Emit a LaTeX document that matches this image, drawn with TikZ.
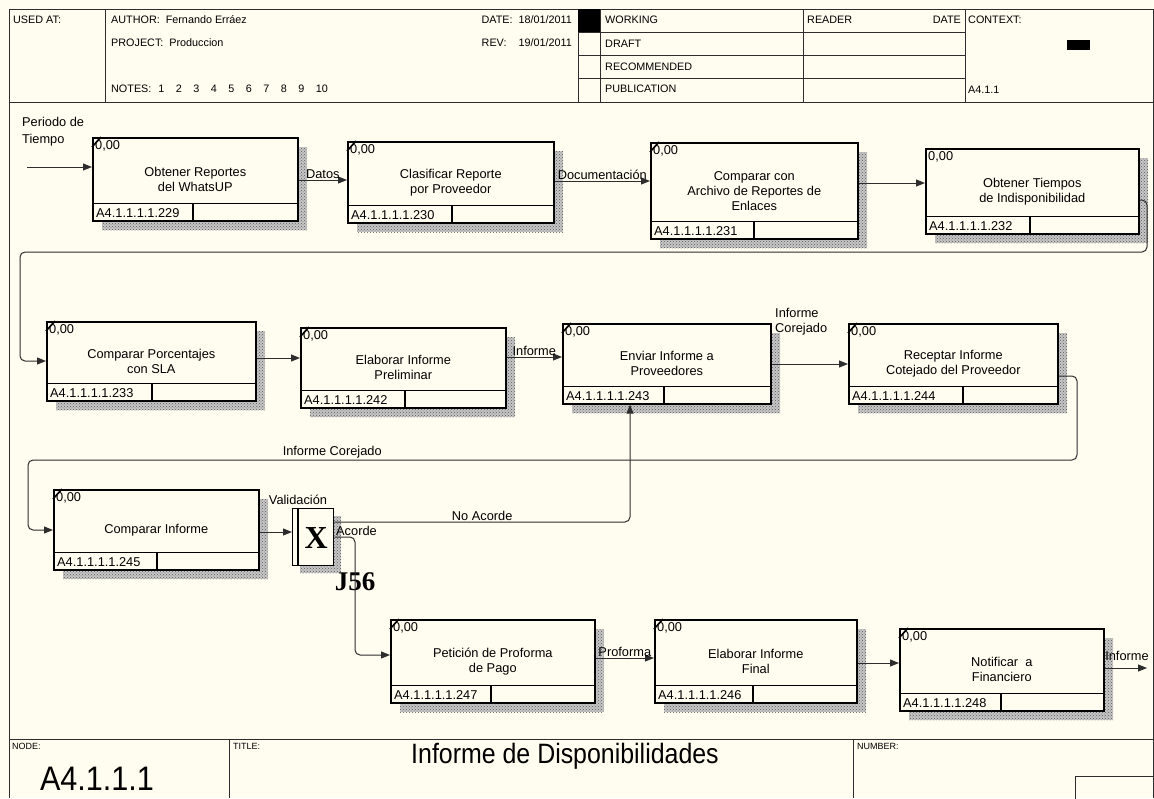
\documentclass[tikz,border=0pt]{standalone}
\usepackage{fontspec}
\setmainfont{Liberation Sans}
\newfontfamily\serifbold{Liberation Serif}
\usetikzlibrary{arrows.meta,calc,patterns,positioning}
\definecolor{papel}{RGB}{255,252,240}
\definecolor{tinta}{RGB}{45,45,45}

\tikzset{
  actbox/.style={draw=black, line width=1.6pt, fill=papel, inner sep=0pt},
  sombra/.style={preaction={fill=gray!45}, pattern=crosshatch dots, pattern color=gray!70!black},
  flecha/.style={-{Triangle[length=9pt,width=7pt]}, line width=1pt, draw=tinta, rounded corners=5pt},
  marco/.style={draw=tinta, line width=1pt},
  etiq/.style={font=\fontsize{12.8}{15}\selectfont, inner sep=1pt, text=black},
  cab/.style={font=\fontsize{10.8}{12}\selectfont, inner sep=1pt, text=black},
  chica/.style={font=\fontsize{9}{11}\selectfont, inner sep=1pt},
}

% caja de actividad IDEF0: [marca] nombre, esquina, ancho, alto, ancho del campo, texto, codigo
\newcommand{\actividad}[8][line width=1.6pt]{%
  \fill[sombra] ($#3+(10,10)$) rectangle ++(#4,#5);
  \node[actbox, anchor=north west, minimum width=#4, minimum height=#5] (#2) at #3 {};
  \draw[line width=1.6pt] ($(#2.south west)+(0,-18)$) -- ($(#2.south east)+(0,-18)$);
  \draw[line width=1.6pt] ($(#2.south west)+(#6,0)$) -- ++(0,-18);
  \draw[#1] (#2.north west) ++(0,10) -- ++(9,-10);
  \node[etiq, anchor=north west] (#2c) at ($(#2.north west)+(2,2)$) {0,00};
  \node[etiq, align=center] (#2t) at (#2.center) {#7};
  \node[etiq, anchor=west] (#2n) at ($(#2.south west)+(3,-9)$) {#8};
}

\begin{document}
\begin{tikzpicture}[x=1pt, y=-1pt]
\useasboundingbox (0,0) rectangle (1154,798);
\fill[papel] (0,0) rectangle (1154,798);

% cabecera
\draw[marco] (9,9) rectangle (1153,102);
\foreach \xc in {105,578,600,803,965}
  \draw[marco] (\xc,9) -- (\xc,102);
\foreach \yc in {32,55,78}
  \draw[marco] (578,\yc) -- (965,\yc);
\fill[black] (578,9) rectangle (600,32);
\fill[black] (1067,40) rectangle (1090,50);

\node[cab, anchor=west] (usedat) at (12,20) {USED AT:};
\node[cab, anchor=west] (autor) at (110,20) {AUTHOR:\ \ Fernando Erráez};
\node[cab, anchor=west] (proyecto) at (110,43) {PROJECT:\ \ Produccion};
\node[cab, anchor=west] (notas) at (110,89) {NOTES:\hspace{7pt}1\hspace{11.5pt}2\hspace{11.5pt}3\hspace{11.5pt}4\hspace{11.5pt}5\hspace{11.5pt}6\hspace{11.5pt}7\hspace{11.5pt}8\hspace{11.5pt}9\hspace{11.5pt}10};
\node[cab, anchor=east] (fecha) at (573,20) {DATE:\ \ 18/01/2011};
\node[cab, anchor=east] (rev) at (573,43) {REV:\ \ \ \ 19/01/2011};
\node[cab, anchor=west] (working) at (604,20) {WORKING};
\node[cab, anchor=west] (draft) at (604,44) {DRAFT};
\node[cab, anchor=west] (recom) at (604,67) {RECOMMENDED};
\node[cab, anchor=west] (public) at (604,89) {PUBLICATION};
\node[cab, anchor=west] (reader) at (806,20) {READER};
\node[cab, anchor=east] (rdate) at (962,20) {DATE};
\node[cab, anchor=west] (contexto) at (967,20) {CONTEXT:};
\node[cab, anchor=west] (ctxnodo) at (967,90) {A4.1.1};

% marco del diagrama y pie
\draw[marco] (9,102) -- (9,798);
\draw[marco] (1153,102) -- (1153,798);
\draw[marco] (9,739) -- (1153,739);
\draw[marco] (229,739) -- (229,798);
\draw[marco] (853,739) -- (853,798);
\draw[marco] (1075,776) rectangle (1160,805);
\node[chica, anchor=north west] (lnodo) at (11,742) {NODE:};
\node[chica, anchor=north west] (ltitulo) at (232,742) {TITLE:};
\node[chica, anchor=north west] (lnumero) at (856,742) {NUMBER:};
\node[font=\fontsize{34}{36}\selectfont, inner sep=0pt, xscale=0.9] (nodo) at (97,779) {A4.1.1.1};
\node[font=\fontsize{28}{30}\selectfont, inner sep=0pt, xscale=0.89] (titulo) at (565,756) {Informe de Disponibilidades};

% actividades
\actividad{a1}{(92,137)}{205}{83}{101}{Obtener Reportes\\del WhatsUP}{A4.1.1.1.1.229}
\actividad{a2}{(347,141)}{206}{81}{105}{Clasificar Reporte\\por Proveedor}{A4.1.1.1.1.230}
\actividad{a3}{(650,142)}{207}{96}{104}{Comparar con\\Archivo de Reportes de\\Enlaces}{A4.1.1.1.1.231}
\actividad[draw=none]{a4}{(925,148)}{213}{85}{105}{Obtener Tiempos\\de Indisponibilidad}{A4.1.1.1.1.232}
\actividad{a5}{(46,321)}{209}{79}{106}{Comparar Porcentajes\\con SLA}{A4.1.1.1.1.233}
\actividad{a6}{(300,327)}{205}{80}{105}{Elaborar Informe\\Preliminar}{A4.1.1.1.1.242}
\actividad{a7}{(562,323)}{208}{80}{102}{Enviar Informe a\\Proveedores}{A4.1.1.1.1.243}
\actividad{a8}{(848,323)}{209}{80}{115}{Receptar Informe\\Cotejado del Proveedor}{A4.1.1.1.1.244}
\actividad{a9}{(53,489)}{205}{80}{104}{Comparar Informe}{A4.1.1.1.1.245}
\actividad{a10}{(390,619)}{204}{83}{101}{Petición de Proforma\\de Pago}{A4.1.1.1.1.247}
\actividad{a11}{(654,619)}{202}{83}{99}{Elaborar Informe\\Final}{A4.1.1.1.1.246}
\actividad{a12}{(899,628)}{204}{82}{102}{Notificar\ \ a\\Financiero}{A4.1.1.1.1.248}

% union J56
\fill[sombra] (300,516) rectangle (341,573);
\node[actbox, line width=1.4pt, anchor=north west, minimum width=41, minimum height=57] (j56) at (292,508) {};
\draw[line width=1.4pt] ($(j56.north west)+(6,0)$) -- ($(j56.south west)+(6,0)$);
\node[font=\serifbold\bfseries\fontsize{32}{32}\selectfont, inner sep=0pt] (jx) at ($(j56.center)+(3,1)$) {X};
\node[font=\serifbold\bfseries\fontsize{27}{27}\selectfont, inner sep=0pt] (jnombre) at (355,582) {J56};

% flechas
\coordinate (entrada) at (27,167);
\draw[flecha] (entrada) -- (a1.west |- entrada);
\node[etiq, anchor=south west, align=left, font=\fontsize{12.8}{17}\selectfont] (lperiodo) at (21,147) {Periodo de\\Tiempo};

\draw[flecha] (a1.east |- 0,180) -- node[etiq, above] (ldatos) {Datos} (a2.west |- 0,180);
\draw[flecha] (a2.east |- 0,181) -- node[etiq, above] (ldoc) {Documentación} (a3.west |- 0,181);
\draw[flecha] (a3.east |- 0,183) -- (a4.west |- 0,183);
\draw[flecha] (a4.east |- 0,200) -- (1147,200) -- (1147,252) -- (20,252) -- (20,361) -- (a5.west |- 0,361);

\draw[flecha] (a5.east |- 0,358) -- (a6.west |- 0,358);
\draw[flecha] (a6.east |- 0,357) -- node[etiq, above] (linforme) {Informe} (a7.west |- 0,357);
\draw[flecha] (a7.east |- 0,364) -- (a8.west |- 0,364);
\node[etiq, anchor=south west, align=left] (lcorejado) at (774,336) {Informe\\Corejado};
\draw[flecha] (a8.east |- 0,376) -- (1077,376) -- (1077,460)
  -- node[etiq, above, pos=0.71] (lcorejado2) {Informe Corejado} (28,460) -- (28,530) -- (a9.west |- 0,530);

\draw[flecha] (a9.east |- 0,532) -- (j56.west |- 0,532);
\node[etiq, anchor=south] (lvalid) at (298,506) {Validación};
\draw[flecha] (j56.east |- 0,522) -- node[etiq, above] (lnoacorde) {No Acorde} (630,522) -- (a7.south -| 630,0);
\draw[flecha] (j56.east |- 0,537) -- (355,537) -- (355,655) -- (a10.west |- 0,655);
\node[etiq, anchor=west] (lacorde) at (335,531) {Acorde};

\draw[flecha] (a10.east |- 0,658) -- node[etiq, above] (lproforma) {Proforma} (a11.west |- 0,658);
\draw[flecha] (a11.east |- 0,663) -- (a12.west |- 0,663);
\coordinate (salida) at (1147,668);
\draw[flecha] (a12.east |- 0,668) -- (salida);
\node[etiq, anchor=south] (lsalida) at (1127,662) {Informe};
\end{tikzpicture}
\end{document}
